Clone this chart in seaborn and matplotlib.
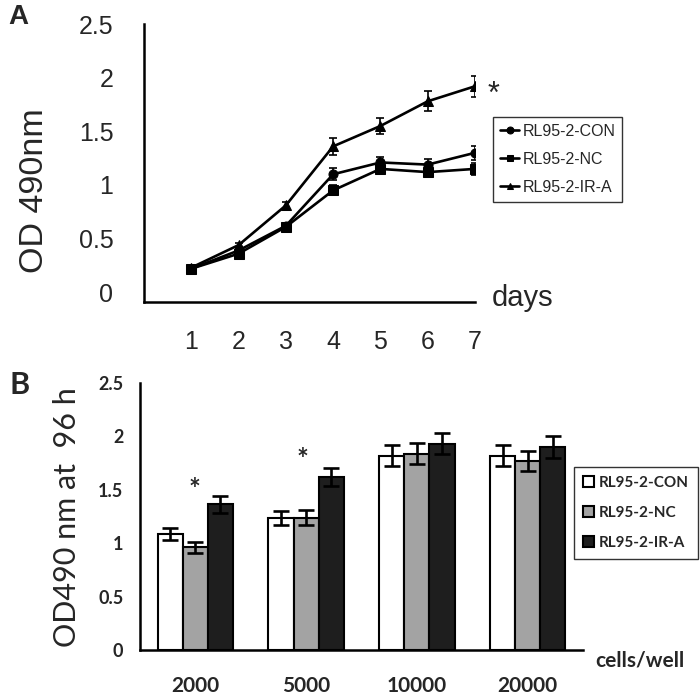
import numpy as np
import pandas as pd
import matplotlib
matplotlib.use("Agg")
import matplotlib.pyplot as plt
import seaborn as sns

# panel A: OD490 growth curves
days = [1, 2, 3, 4, 5, 6, 7]
con = [0.22, 0.39, 0.62, 1.10, 1.21, 1.19, 1.30]
con_err = [0.02, 0.02, 0.03, 0.054, 0.054, 0.05, 0.067]
nc = [0.22, 0.36, 0.61, 0.95, 1.15, 1.12, 1.15]
nc_err = [0.02, 0.02, 0.03, 0.046, 0.05, 0.05, 0.057]
ira = [0.23, 0.44, 0.81, 1.36, 1.55, 1.78, 1.92]
ira_err = [0.02, 0.02, 0.03, 0.076, 0.078, 0.095, 0.10]

# panel B: OD490 at 96 h by seeding density
cells = ["2000", "5000", "10000", "20000"]
groups = ["RL95-2-CON", "RL95-2-NC", "RL95-2-IR-A"]
b_con = [1.09, 1.235, 1.82, 1.82]
b_con_err = [0.056, 0.067, 0.098, 0.097]
b_nc = [0.96, 1.24, 1.84, 1.77]
b_nc_err = [0.05, 0.067, 0.098, 0.095]
b_ira = [1.365, 1.62, 1.93, 1.90]
b_ira_err = [0.078, 0.084, 0.098, 0.10]

sns.set_style("white")
plt.rcParams["font.family"] = ["Liberation Sans", "DejaVu Sans"]

fig = plt.figure(figsize=(7, 7), dpi=100)

# ---------------- panel A ----------------
axA = fig.add_axes([0.2057, 0.5686, 0.4729, 0.3971])
series = [(con, con_err, "o", "RL95-2-CON"),
          (nc, nc_err, "s", "RL95-2-NC"),
          (ira, ira_err, "^", "RL95-2-IR-A")]
for vals, errs, mk, lab in series:
    sns.lineplot(x=days, y=vals, marker=mk, color="black", linewidth=1.9,
                 markersize=6.5, markeredgecolor="black", label=lab, ax=axA)
    axA.errorbar(days, vals, yerr=errs, fmt="none", ecolor="black",
                 elinewidth=1.2, capsize=3, capthick=1.2)

axA.set_xlim(0, 7)
axA.set_ylim(-0.09, 2.5)
axA.set_xticks(days)
axA.set_yticks([0, 0.5, 1, 1.5, 2, 2.5])
axA.set_yticklabels(["0", "0.5", "1", "1.5", "2", "2.5"])
axA.tick_params(axis="x", direction="in", length=9, width=1.6, pad=20, labelsize=18)
axA.tick_params(axis="y", direction="in", length=7, width=1.6, pad=22, labelsize=18)
for s in ["top", "right"]:
    axA.spines[s].set_visible(False)
for s in ["left", "bottom"]:
    axA.spines[s].set_linewidth(1.8)
    axA.spines[s].set_color("black")
axA.set_xlabel("")
axA.set_ylabel("")
fig.text(0.05, 0.728, "OD 490nm", rotation=90, fontsize=24.5, ha="center", va="center")
fig.text(0.703, 0.574, "days", fontsize=21, ha="left", va="center")
fig.text(0.012, 0.975, "A", fontsize=20, fontweight="bold", ha="left", va="center")
axA.text(7.26, 1.84, "*", fontsize=22, ha="left", va="center")

legA = axA.legend(loc="upper left", bbox_to_anchor=(0.704, 0.833),
                  bbox_transform=fig.transFigure, frameon=True, fancybox=False,
                  edgecolor="black", fontsize=11.5, handlelength=1.2,
                  handletextpad=0.2, labelspacing=0.8, borderpad=0.45,
                  borderaxespad=0)
legA.get_frame().set_linewidth(1.0)
for h in legA.legend_handles:
    h.set_markersize(5)

# ---------------- panel B ----------------
plt.rcParams["font.family"] = ["Lato", "DejaVu Sans"]
axB = fig.add_axes([0.2, 0.0714, 0.6329, 0.3814])
df = pd.DataFrame({
    "cells": cells * 3,
    "group": [g for g in groups for _ in cells],
    "od": b_con + b_nc + b_ira,
})
sns.barplot(data=df, x="cells", y="od", hue="group", order=cells,
            hue_order=groups, palette=["white", "#a3a3a3", "#1e1e1e"],
            edgecolor="black", linewidth=1.5, width=0.68, errorbar=None,
            ax=axB)
for cont, errs in zip(axB.containers, [b_con_err, b_nc_err, b_ira_err]):
    xs = [p.get_x() + p.get_width() / 2 for p in cont]
    ys = [p.get_height() for p in cont]
    axB.errorbar(xs, ys, yerr=errs, fmt="none", ecolor="black",
                 elinewidth=1.9, capsize=6, capthick=1.9)

axB.set_xlim(-0.5, 3.5)
axB.set_ylim(0, 2.5)
axB.set_yticks([0, 0.5, 1, 1.5, 2, 2.5])
axB.set_yticklabels(["0", "0.5", "1", "1.5", "2", "2.5"], fontweight="bold")
axB.set_xticks(range(len(cells)))
axB.set_xticklabels(cells, fontweight="bold")
axB.set_xticks([0.5, 1.5, 2.5, 3.5], minor=True)
axB.tick_params(axis="x", which="major", length=0, pad=19, labelsize=15)
axB.tick_params(axis="x", which="minor", direction="out", length=8, width=1.8)
axB.tick_params(axis="y", direction="out", length=5, width=1.8, pad=7, labelsize=13)
for s in ["top", "right"]:
    axB.spines[s].set_visible(False)
for s in ["left", "bottom"]:
    axB.spines[s].set_linewidth(1.8)
    axB.spines[s].set_color("black")
axB.set_xlabel("")
axB.set_ylabel("")
fig.text(0.095, 0.261, "OD490 nm at  96 h", rotation=90, fontsize=22,
         ha="center", va="center")
fig.text(0.85, 0.057, "cells/well", fontsize=15, fontweight="bold",
         ha="left", va="center")
fig.text(0.014, 0.45, "B", fontsize=22, fontweight="bold", ha="left", va="center")
axB.text(-0.01, 1.50, "*", fontsize=20, fontweight="bold", ha="center", va="center")
axB.text(0.97, 1.78, "*", fontsize=20, fontweight="bold", ha="center", va="center")

legB = axB.legend(loc="upper left", bbox_to_anchor=(0.82, 0.333),
                  bbox_transform=fig.transFigure, frameon=True, fancybox=False,
                  edgecolor="black", handlelength=0.7, handleheight=0.7,
                  handletextpad=0.3, labelspacing=1.05, borderpad=0.6,
                  borderaxespad=0, prop={"weight": "bold", "size": 11})
legB.get_frame().set_linewidth(1.0)

fig.savefig("out.png", dpi=100)
